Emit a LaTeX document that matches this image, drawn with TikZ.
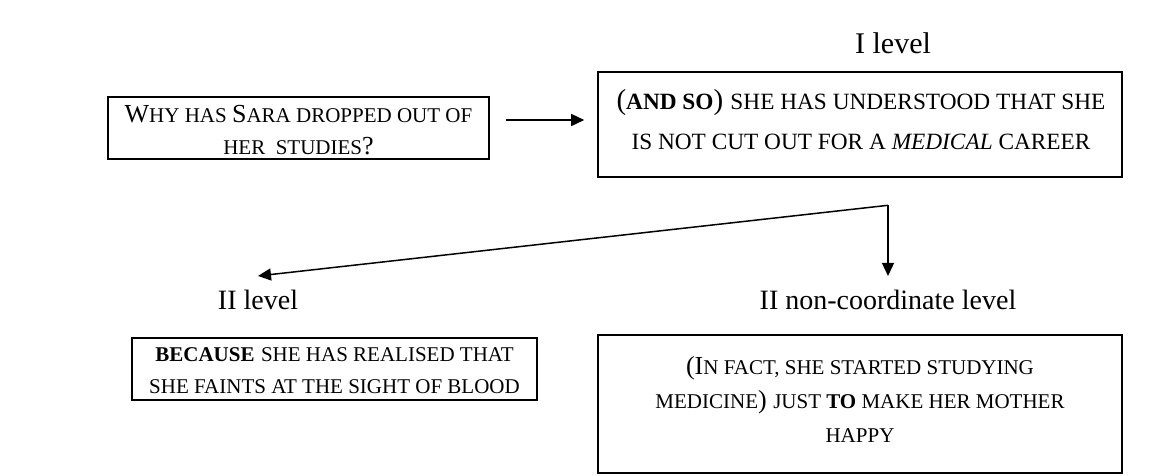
\documentclass[tikz,border=0pt]{standalone}
\usepackage{fontspec}
\setmainfont{Liberation Serif}
\usetikzlibrary{arrows.meta,calc}
\newcommand\smc[1]{{\fontsize{21}{32}\selectfont #1}}
\newcommand\smcb[1]{{\fontsize{23.3}{40}\selectfont #1}}
\begin{document}
\begin{tikzpicture}[x=1pt,y=-1pt,
  box/.style={draw,line width=1.6pt,inner sep=0pt},
  txt/.style={align=center,inner sep=0pt,font=\fontsize{26}{32}\selectfont},
  lvl/.style={font=\fontsize{28}{34}\selectfont,inner sep=0pt},
  arr/.style={line width=1.5pt,-{Triangle[length=13pt,width=12pt]}}]
\useasboundingbox (0,0) rectangle (1174,475);
\node[lvl,font=\fontsize{30}{34}\selectfont] (l1) at (893,43) {I level};
\node[box,minimum width=381pt,minimum height=62pt] (b1) at (298.5,128) {};
\node[txt] (t1) at (298.5,130)
  {W\smc{HY HAS }S\smc{ARA DROPPED OUT OF}\\\smc{HER\ \ STUDIES}?};
\node[box,minimum width=524pt,minimum height=105pt] (b2) at (860,124.5) {};
\node[txt,font=\fontsize{29}{40}\selectfont] (t2) at (861,120)
  {(\smcb{\bfseries AND SO}) \smcb{SHE HAS UNDERSTOOD THAT SHE}\\
   \smcb{IS NOT CUT OUT FOR A \itshape MEDICAL\upshape{} CAREER}};
\draw[arr] ($(b1.east)+(16,-8)$) -- ($(b2.west)+(-13,-4.5)$);
\node[lvl] (l2) at (258,300) {II level};
\node[lvl] (l3) at (888,300) {II non-coordinate level};
\coordinate (split) at ($(b2.south)+(28,27.5)$);
\draw[arr] (split) -- ($(l2.north)+(0,-14)$);
\draw[arr] (split) -- ($(l3.north)+(0,-14)$);
\node[box,minimum width=405pt,minimum height=62pt] (b3) at (334.5,369) {};
\node[txt] (t3) at (334.5,371)
  {\smc{\bfseries BECAUSE} \smc{SHE HAS REALISED THAT}\\{\fontsize{21}{31}\selectfont SHE FAINTS AT THE SIGHT OF BLOOD}};
\node[box,minimum width=524pt,minimum height=138pt] (b4) at (860,404) {};
\node[txt,font=\fontsize{26}{34}\selectfont] (t4) at (860,399)
  {(I\smc{N FACT, SHE STARTED STUDYING}\\
   {\fontsize{21}{34}\selectfont MEDICINE}) \smc{JUST \bfseries TO\mdseries{} MAKE HER MOTHER}\\
   {\fontsize{21}{34}\selectfont HAPPY}};
\end{tikzpicture}
\end{document}
